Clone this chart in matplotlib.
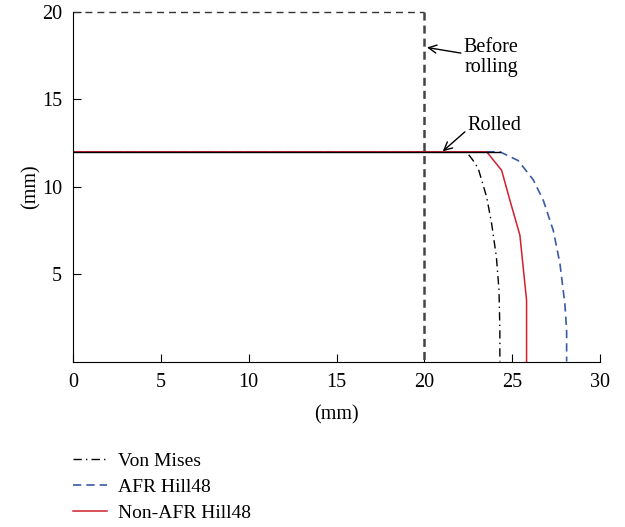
import matplotlib
matplotlib.use("Agg")
import matplotlib.pyplot as plt

plt.rcParams['font.family'] = ['Liberation Serif', 'DejaVu Serif']
plt.rcParams['lines.scale_dashes'] = False

# Before rolling outline
before_x = [0, 20, 20]
before_y = [20, 20, 0]
# Rolled top line
rolled_x = [0, 24.3]
rolled_y = [12, 12]
# Von Mises
vm_x = [0, 22.4, 22.78, 23.07, 23.55, 23.83, 24.1, 24.25, 24.3, 24.3]
vm_y = [12, 12, 11.5, 11.04, 9.4, 7.9, 6.0, 4.1, 1.8, 0]
# AFR Hill48
afr_x = [0, 24.3, 25.34, 26.2, 26.77, 27.34, 27.72, 28.0, 28.1, 28.1]
afr_y = [12, 12, 11.5, 10.4, 9.23, 7.5, 5.6, 3.3, 1.8, 0]
# Non-AFR Hill48
nafr_x = [0, 23.55, 24.4, 24.87, 25.44, 25.82, 25.82]
nafr_y = [12, 12, 10.94, 9.23, 7.23, 3.5, 0]

xticks = [0, 5, 10, 15, 20, 25, 30]
yticks = [5, 10, 15, 20]

FS = 14.5

fig = plt.figure(figsize=(6.25, 5.27), dpi=100)
ax = fig.add_axes([73/625, 1-361.5/527, (600-73)/625, (361.5-12)/527])

# top edge (thin) and right edge (thicker) of the original shape
ax.plot(before_x[:2], before_y[:2], color='#333333', lw=1.0, dashes=(5, 3.6), clip_on=False)
ax.plot(before_x[1:], before_y[1:], color='#444444', lw=1.8, dashes=(5.8, 3.6))
l1, = ax.plot(vm_x, vm_y, color='black', lw=1.0, dashes=(6, 3, 1, 3), label='Von Mises')
l2, = ax.plot(afr_x, afr_y, color='#3a5aa8', lw=1.2, dashes=(6, 3.6), label='AFR Hill48')
l3, = ax.plot(nafr_x, nafr_y, color='#d0202c', lw=1.1, label='Non-AFR Hill48')
ax.plot(rolled_x, rolled_y, color='black', lw=1.0)

ax.set_xlim(0, 30)
ax.set_ylim(0, 20)
ax.set_xticks(xticks)
ax.set_yticks(yticks)
for s in ['top', 'right']:
    ax.spines[s].set_visible(False)
ax.tick_params(direction='in', length=6, labelsize=FS, pad=8)
ax.set_xlabel('(mm)', fontsize=FS, labelpad=10)
ax.set_ylabel('(mm)', fontsize=FS, labelpad=1)

ax.annotate('Before\nrolling', xy=(20.15, 17.97), xytext=(23.8, 17.4),
            fontsize=FS, ha='center', va='center', linespacing=1.05,
            arrowprops=dict(arrowstyle='->', color='black', lw=1.0, shrinkA=0, shrinkB=0,
                            relpos=(0, 0.6)))
ax.annotate('Rolled', xy=(21.05, 12.03), xytext=(24.0, 13.5),
            fontsize=FS, ha='center', va='center',
            arrowprops=dict(arrowstyle='->', color='black', lw=1.0, shrinkA=0, shrinkB=0,
                            relpos=(0, 0.3)))

fig.legend(handles=[l1, l2, l3], loc='upper left', bbox_to_anchor=(73/625, 1-452/527),
           frameon=False, fontsize=14, handlelength=1.75, handletextpad=0.57,
           labelspacing=0.43, borderpad=0, borderaxespad=0)

fig.savefig('out.png', dpi=100)
